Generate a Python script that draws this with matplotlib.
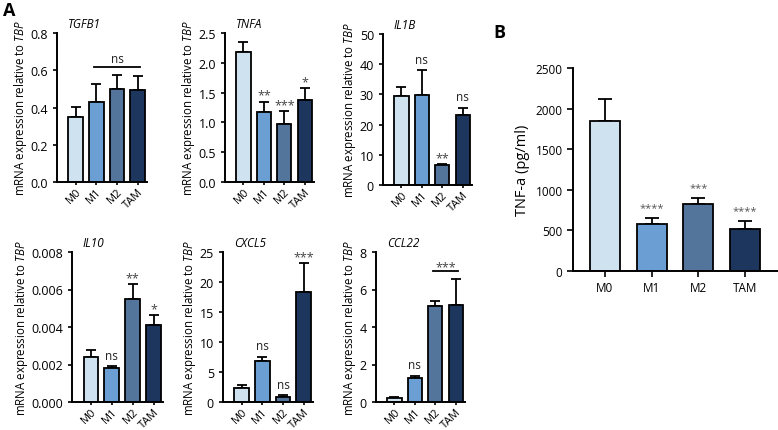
import matplotlib
matplotlib.use('Agg')
import matplotlib.pyplot as plt

plt.rcParams['font.family'] = ['Open Sans', 'DejaVu Sans']
plt.rcParams['mathtext.fontset'] = 'custom'
plt.rcParams['mathtext.it'] = 'Open Sans:italic'
plt.rcParams['mathtext.rm'] = 'Open Sans'

# data
groups = ['M0', 'M1', 'M2', 'TAM']
colors = ['#cfe2f0', '#6b9fd3', '#54759b', '#1d365d']

genes = ['TGFB1', 'TNFA', 'IL1B', 'IL10', 'CXCL5', 'CCL22']
means = {
    'TGFB1': [0.35, 0.43, 0.50, 0.495],
    'TNFA': [2.18, 1.18, 0.97, 1.38],
    'IL1B': [29.5, 29.8, 6.5, 23.2],
    'IL10': [0.0024, 0.0018, 0.0055, 0.0041],
    'CXCL5': [2.3, 6.8, 0.8, 18.3],
    'CCL22': [0.2, 1.28, 5.12, 5.2],
}
errs = {
    'TGFB1': [0.055, 0.095, 0.075, 0.075],
    'TNFA': [0.17, 0.17, 0.22, 0.2],
    'IL1B': [3.0, 8.2, 0.4, 2.3],
    'IL10': [0.00035, 0.0001, 0.0008, 0.00055],
    'CXCL5': [0.5, 0.7, 0.3, 4.9],
    'CCL22': [0.08, 0.12, 0.28, 1.35],
}
ymax = {'TGFB1': 0.8, 'TNFA': 2.5, 'IL1B': 50, 'IL10': 0.008, 'CXCL5': 25, 'CCL22': 8}
ystep = {'TGFB1': 0.2, 'TNFA': 0.5, 'IL1B': 10, 'IL10': 0.002, 'CXCL5': 5, 'CCL22': 2}
yfmt = {'TGFB1': '{:.1f}', 'TNFA': '{:.1f}', 'IL1B': '{:.0f}', 'IL10': '{:.3f}',
        'CXCL5': '{:.0f}', 'CCL22': '{:.0f}'}
# significance labels above individual bars (None = nothing)
stars = {
    'TGFB1': [None, None, None, None],
    'TNFA': [None, '**', '***', '*'],
    'IL1B': [None, 'ns', '**', 'ns'],
    'IL10': [None, 'ns', '**', '*'],
    'CXCL5': [None, 'ns', 'ns', '***'],
    'CCL22': [None, 'ns', None, None],
}
# brackets: (gene, from, to, height, label)
brackets = [('TGFB1', 1, 3, 0.62, 'ns'), ('CCL22', 2, 3, 7.0, '***')]

elisa_mean = [1850, 575, 820, 520]
elisa_err = [270, 75, 80, 90]
elisa_stars = [None, '****', '***', '****']

# axes positions in pixels: left, right, top, bottom
W, H = 778, 431
boxes = {
    'TGFB1': (57, 147, 34, 183),
    'TNFA': (225, 314, 34, 183),
    'IL1B': (383, 472, 35, 186),
    'IL10': (72, 163, 253, 403),
    'CXCL5': (223, 313, 253, 403),
    'CCL22': (376, 465, 253, 403),
}

fig = plt.figure(figsize=(W / 100, H / 100), dpi=100)

def style(ax):
    for s in ['top', 'right']:
        ax.spines[s].set_visible(False)
    for s in ['left', 'bottom']:
        ax.spines[s].set_linewidth(1.4)
    ax.tick_params(width=1.2, length=3, colors='black')

def sig_text(ax, xpos, y, s, ytop):
    # stars sit a little lower than "ns" since they are drawn high in the glyph box
    if s.startswith('*'):
        ax.text(xpos, y - ytop * 0.02, s, ha='center', va='bottom', fontsize=9, color='#444444')
    else:
        ax.text(xpos, y + ytop * 0.01, s, ha='center', va='bottom', fontsize=8.5, color='#222222')

x = range(4)
for g in genes:
    l, r, t, b = boxes[g]
    ax = fig.add_axes([l / W, 1 - b / H, (r - l) / W, (b - t) / H])
    ax.bar(x, means[g], width=0.7, color=colors, edgecolor='black', linewidth=1.3, zorder=2)
    ax.errorbar(x, means[g], yerr=[[0] * 4, errs[g]], fmt='none', ecolor='black',
                elinewidth=1.3, capsize=3.5, capthick=1.3, zorder=1)
    ax.set_xlim(-0.9, 3.45)
    ax.set_ylim(0, ymax[g])
    n = int(round(ymax[g] / ystep[g])) + 1
    ticks = [i * ystep[g] for i in range(n)]
    ax.set_yticks(ticks)
    ax.set_yticklabels([yfmt[g].format(v) for v in ticks], fontsize=9)
    ax.set_xticks(list(x))
    ax.set_xticklabels(groups, rotation=45, ha='right', va='top', rotation_mode='anchor',
                       fontsize=8)
    ax.set_ylabel('mRNA expression relative to $\\it{TBP}$', fontsize=8.3, labelpad=1)
    ax.text(0.12, 1.02, g, transform=ax.transAxes, fontsize=8.5, style='italic', va='bottom')
    style(ax)
    ax.tick_params(axis='x', length=2, pad=0.5)
    for i, s in enumerate(stars[g]):
        if s:
            sig_text(ax, i, means[g][i] + errs[g][i] + ymax[g] * 0.02, s, ymax[g])
    for bg, i0, i1, h, lab in brackets:
        if bg == g:
            ax.plot([i0 - 0.1, i1 + 0.1], [h, h], color='black', lw=1.3)
            sig_text(ax, (i0 + i1) / 2, h, lab, ymax[g])

# panel B
l, r, t, b = 573, 778, 69, 272
axb = fig.add_axes([l / W, 1 - b / H, (r - l) / W, (b - t) / H])
axb.bar(x, elisa_mean, width=0.64, color=colors, edgecolor='black', linewidth=1.3, zorder=2)
axb.errorbar(x, elisa_mean, yerr=[[0] * 4, elisa_err], fmt='none', ecolor='black',
             elinewidth=1.3, capsize=5, capthick=1.3, zorder=1)
axb.set_xlim(-0.68, 3.7)
axb.set_ylim(0, 2500)
axb.set_yticks(range(0, 2501, 500))
axb.tick_params(axis='y', labelsize=8.5)
axb.set_xticks(list(x))
axb.set_xticklabels(groups, fontsize=8.5)
axb.set_ylabel('TNF-a (pg/ml)', fontsize=10.5)
style(axb)
axb.tick_params(length=4)
for i, s in enumerate(elisa_stars):
    if s:
        axb.text(i, elisa_mean[i] + elisa_err[i] + 60, s, ha='center', va='bottom',
                 fontsize=8, color='#555555')

fig.text(3 / W, 1 - 2 / H, 'A', fontsize=13, fontweight='bold', va='top')
fig.text(493 / W, 1 - 24 / H, 'B', fontsize=13, fontweight='bold', va='top')

fig.savefig('out.png', dpi=100)
